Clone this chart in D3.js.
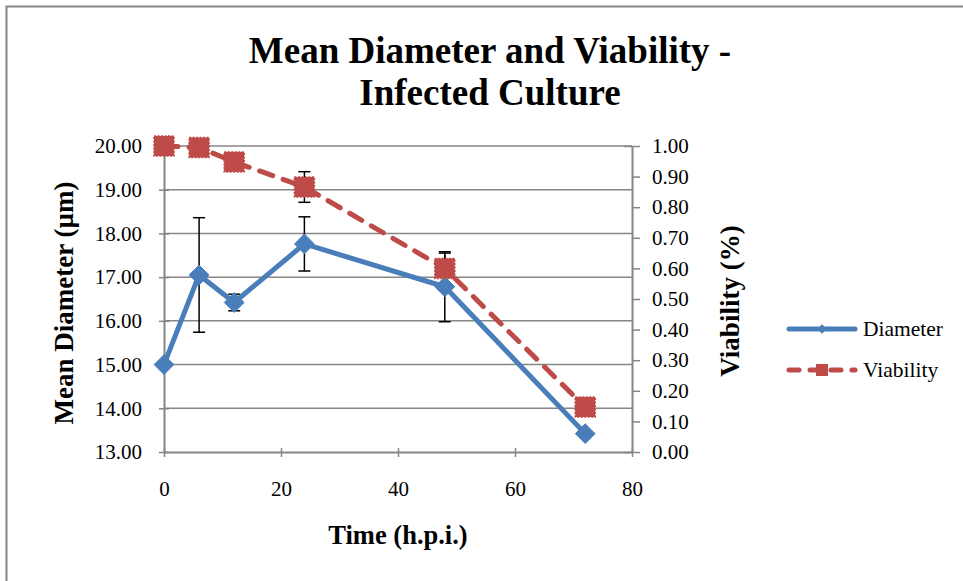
<!DOCTYPE html>
<html>
<head>
<meta charset="utf-8">
<script src="https://cdn.jsdelivr.net/npm/d3@7"></script>
<style>
html,body{margin:0;padding:0;background:#fff;}
svg{display:block;font-family:"Liberation Serif","Times New Roman",serif;}
</style>
</head>
<body>
<svg id="chart" width="963" height="581"></svg>
<script>
const times = [0, 6, 12, 24, 48, 72];
const diameter = [15.00, 17.05, 16.42, 17.76, 16.78, 13.42];
const diameterErr = [0.03, 1.31, 0.19, 0.62, 0.80, 0.05];
const viability = [1.00, 0.995, 0.948, 0.866, 0.60, 0.147];
const viabilityErr = [0, 0, 0, 0.05, 0.05, 0];
const xTicks = [0, 20, 40, 60, 80];
const leftTicks = [13, 14, 15, 16, 17, 18, 19, 20];
const rightTicks = [0, 0.1, 0.2, 0.3, 0.4, 0.5, 0.6, 0.7, 0.8, 0.9, 1.0];
const titleLines = ["Mean Diameter and Viability -", "Infected Culture"];
const seriesNames = ["Diameter", "Viability"];

const blue = "#4A7EBB", red = "#BE4B48", grey = "#868686";
const serif = "'Liberation Serif','Times New Roman',serif";
const svg = d3.select("#chart");

svg.append("rect").attr("x", 6.5).attr("y", 6.5).attr("width", 1000).attr("height", 1000)
  .attr("fill", "#fff").attr("stroke", grey).attr("stroke-width", 2);

const x = d3.scaleLinear().domain([0, 80]).range([164, 632]);
const yL = d3.scaleLinear().domain([13, 20]).range([452, 146]);
const yR = d3.scaleLinear().domain([0, 1]).range([452, 146]);

// gridlines
svg.append("g").selectAll("line").data(leftTicks.slice(1)).join("line")
  .attr("x1", x(0)).attr("x2", x(80)).attr("y1", d => yL(d)).attr("y2", d => yL(d))
  .attr("stroke", grey).attr("stroke-width", 1.5);

// axes
function styleAxis(g) {
  g.attr("font-family", serif);
  g.select(".domain").attr("stroke", grey).attr("stroke-width", 2);
  g.selectAll(".tick line").attr("stroke", grey).attr("stroke-width", 1.5);
  g.selectAll(".tick text").attr("fill", "#000").style("font-size", "21px").style("font-family", serif);
}
const gL = svg.append("g").attr("transform", `translate(${x(0)},0)`)
  .call(d3.axisLeft(yL).tickValues(leftTicks).tickFormat(d3.format(".2f")).tickSizeOuter(0).tickSizeInner(5).tickPadding(17));
styleAxis(gL);
gL.selectAll(".tick line").attr("x1", 5).attr("x2", -5);

const gR = svg.append("g").attr("transform", `translate(${x(80)},0)`)
  .call(d3.axisRight(yR).tickValues(rightTicks).tickFormat(d3.format(".2f")).tickSizeOuter(0).tickSizeInner(8).tickPadding(12));
styleAxis(gR);
gR.selectAll(".tick line").attr("x1", d => (d === 0 || d === 1) ? -8 : 0);

const gX = svg.append("g").attr("transform", `translate(0,${yL(13)})`)
  .call(d3.axisBottom(x).tickValues(xTicks).tickSizeOuter(0).tickSizeInner(5).tickPadding(24));
styleAxis(gX);
gX.selectAll(".tick line").attr("y1", -4).attr("y2", 5);

// error bars
function errBars(vals, errs, scale) {
  const g = svg.append("g");
  times.forEach((t, i) => {
    if (!errs[i]) return;
    const cx = x(t), y1 = scale(vals[i] + errs[i]), y2 = scale(vals[i] - errs[i]);
    g.append("line").attr("x1", cx).attr("x2", cx).attr("y1", y1).attr("y2", y2).attr("stroke", "#000").attr("stroke-width", 1.5);
    [y1, y2].forEach(yy => g.append("line").attr("x1", cx - 6).attr("x2", cx + 6).attr("y1", yy).attr("y2", yy).attr("stroke", "#000").attr("stroke-width", 1.5));
  });
}
errBars(diameter, diameterErr, yL);
errBars(viability, viabilityErr, yR);

// diameter line
const lineD = d3.line().x((d, i) => x(times[i])).y(d => yL(d));
svg.append("path").datum(diameter).attr("d", lineD).attr("fill", "none")
  .attr("stroke", blue).attr("stroke-width", 5).attr("stroke-linejoin", "round");
svg.append("g").selectAll("path").data(diameter).join("path")
  .attr("d", d3.symbol(d3.symbolDiamond2, 250))
  .attr("transform", (d, i) => `translate(${x(times[i])},${yL(d)})`)
  .attr("fill", blue).attr("stroke", blue).attr("stroke-width", 1);

// viability line
const lineV = d3.line().x((d, i) => x(times[i])).y(d => yR(d));
svg.append("path").datum(viability).attr("d", lineV).attr("fill", "none")
  .attr("stroke", red).attr("stroke-width", 5).attr("stroke-dasharray", "14,11").attr("stroke-linecap", "round");
svg.append("g").selectAll("rect").data(viability).join("rect")
  .attr("x", (d, i) => x(times[i]) - 10).attr("y", d => yR(d) - 10)
  .attr("width", 20).attr("height", 20)
  .attr("fill", red).attr("stroke", red).attr("stroke-width", 1.5).attr("stroke-dasharray", "2,1.5");

// titles
svg.append("text").attr("x", 490).attr("text-anchor", "middle")
  .style("font-size", "37px").style("font-weight", "bold")
  .selectAll("tspan").data(titleLines).join("tspan")
  .attr("x", 490).attr("y", (d, i) => 63 + i * 42).text(d => d);

svg.append("text").attr("transform", "translate(73,303) rotate(-90)").attr("text-anchor", "middle")
  .style("font-size", "27px").style("font-weight", "bold").text("Mean Diameter (µm)");
svg.append("text").attr("transform", "translate(739,301) rotate(-90)").attr("text-anchor", "middle")
  .style("font-size", "27px").style("font-weight", "bold").text("Viability (%)");
svg.append("text").attr("x", 398).attr("y", 544).attr("text-anchor", "middle")
  .style("font-size", "26.5px").style("font-weight", "bold").text("Time (h.p.i.)");

// legend
const lg = svg.append("g");
const ly = [329, 370];
lg.append("line").attr("x1", 789).attr("x2", 855).attr("y1", ly[0]).attr("y2", ly[0])
  .attr("stroke", blue).attr("stroke-width", 5).attr("stroke-linecap", "round");
lg.append("path").attr("d", d3.symbol(d3.symbolDiamond2, 60)).attr("transform", `translate(822,${ly[0]})`).attr("fill", blue);
lg.append("line").attr("x1", 789).attr("x2", 855).attr("y1", ly[1]).attr("y2", ly[1])
  .attr("stroke", red).attr("stroke-width", 5).attr("stroke-linecap", "round").attr("stroke-dasharray", "10,11");
lg.append("rect").attr("x", 816).attr("y", ly[1] - 6).attr("width", 12).attr("height", 12).attr("fill", red);
lg.selectAll("text.lbl").data(seriesNames).join("text").attr("class", "lbl")
  .attr("x", 863).attr("y", (d, i) => ly[i] + 7).style("font-size", "21.5px").text(d => d);
</script>
</body>
</html>
